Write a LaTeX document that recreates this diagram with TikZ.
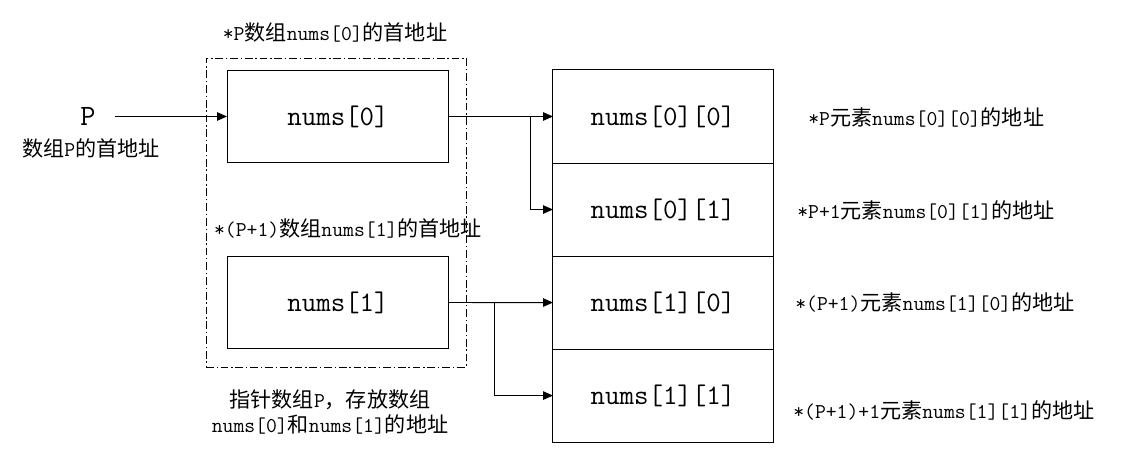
\documentclass[tikz,border=0pt]{standalone}
\usepackage{fontspec}
\newfontfamily\cjk{Noto Sans CJK SC}
\newcommand\zh[1]{{\cjk #1}}
\usetikzlibrary{positioning,arrows.meta}

\begin{document}
\begin{tikzpicture}[
	x=0.025cm, y=-0.025cm,
	ptrbox/.style={rectangle, draw=black, line width=0.7pt, minimum width=5.525cm, minimum height=2.3cm, font=\ttfamily\fontsize{20}{24}\selectfont},
	cell/.style={rectangle, draw=black, line width=0.7pt, outer sep=0pt, minimum width=5.5cm, minimum height=2.325cm, font=\ttfamily\fontsize{20}{24}\selectfont},
	frame/.style={rectangle, draw=black, line width=0.6pt, dash pattern=on 5.5pt off 2pt on 1pt off 2pt, minimum width=6.5cm, minimum height=7.725cm},
	note/.style={font=\ttfamily\fontsize{15}{17.8}\selectfont, inner sep=0pt},
	link/.style={-{Triangle[length=7pt,width=6pt]}, line width=0.7pt},
	wire/.style={line width=0.7pt}
	]
	
	\useasboundingbox (0,0) rectangle (1139,464);
	
	% pointer P
	\node[font=\ttfamily\fontsize{21}{24}\selectfont] (p) at (88,116.5) {P};
	\node[note] (plbl) at (91,148) {\zh{数组}P\zh{的首地址}};
	
	% pointer array
	\node[frame] (parr) at (336,212.5) {};
	\node[ptrbox] (a0) at (338,116.5) {nums[0]};
	\node[ptrbox] (a1) at (338,302.5) {nums[1]};
	\node[note] (a0lbl) at (335,32) {*P\zh{数组}nums[0]\zh{的首地址}};
	\node[note] (a1lbl) at (348,228) {*(P+1)\zh{数组}nums[1]\zh{的首地址}};
	\node[note, align=center] (parrlbl) at (330,412) {\zh{指针数组}P\zh{，存放数组}\\nums[0]\zh{和}nums[1]\zh{的地址}};
	
	% elements
	\node[cell] (c00) at (663,116.5) {nums[0][0]};
	\node[cell, below=0pt of c00] (c01) {nums[0][1]};
	\node[cell, below=0pt of c01] (c10) {nums[1][0]};
	\node[cell, below=0pt of c10] (c11) {nums[1][1]};
	
	\node[note, anchor=west] (c00lbl) at (808,117) {*P\zh{元素}nums[0][0]\zh{的地址}};
	\node[note, anchor=west] (c01lbl) at (797,210) {*P+1\zh{元素}nums[0][1]\zh{的地址}};
	\node[note, anchor=west] (c10lbl) at (795,302) {*(P+1)\zh{元素}nums[1][0]\zh{的地址}};
	\node[note, anchor=west] (c11lbl) at (793,410) {*(P+1)+1\zh{元素}nums[1][1]\zh{的地址}};
	
	% connectors
	\coordinate (j0) at (530,116.5);
	\coordinate (j1) at (494,302.5);
	\draw[link, shorten <=10pt] (p.east) -- (a0.west);
	\draw[link] (a0.east) -- (c00.west);
	\draw[link] (j0) |- (c01.west);
	\draw[link] (a1.east) -- (c10.west);
	\draw[link] (j1) |- (c11.west);
	
\end{tikzpicture}
\end{document}
